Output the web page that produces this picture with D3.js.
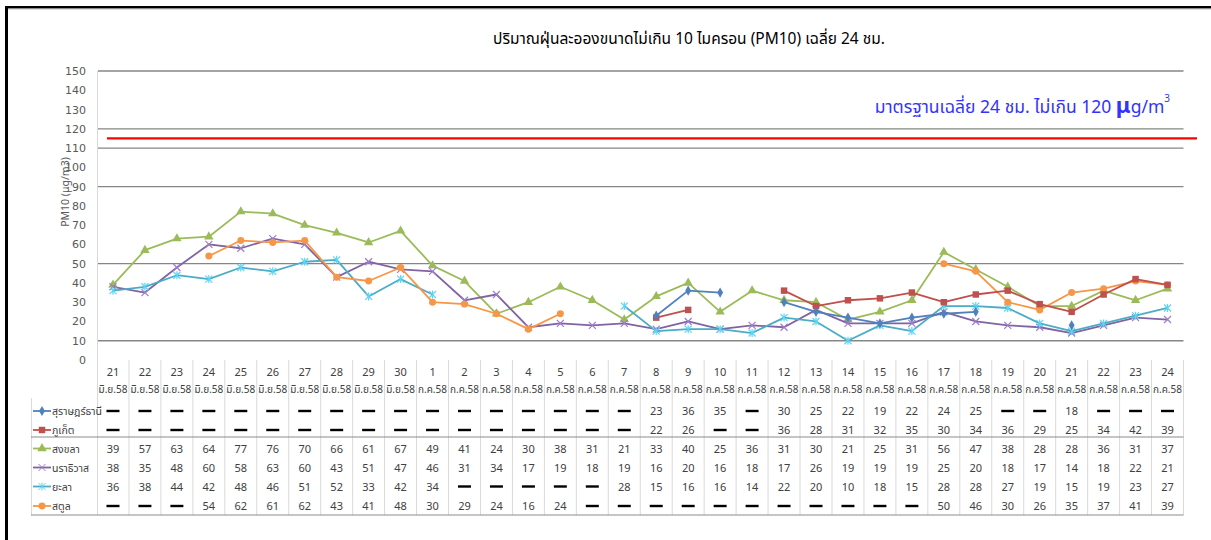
<!DOCTYPE html>
<html>
<head>
<meta charset="utf-8">
<script src="https://cdn.jsdelivr.net/npm/d3@7"></script>
<style>
  html, body { margin: 0; padding: 0; background: #fff; }
  svg { display: block; font-family: Tahoma, "Noto Sans Thai", "Noto Sans", "DejaVu Sans", sans-serif; }
</style>
</head>
<body>
<svg id="chart" width="1211" height="540"></svg>
<script>
// ---------------- DATA ----------------
const days = [21,22,23,24,25,26,27,28,29,30,1,2,3,4,5,6,7,8,9,10,11,12,13,14,15,16,17,18,19,20,21,22,23,24];
const months = ["มิ.ย.58","มิ.ย.58","มิ.ย.58","มิ.ย.58","มิ.ย.58","มิ.ย.58","มิ.ย.58","มิ.ย.58","มิ.ย.58","มิ.ย.58",
  "ก.ค.58","ก.ค.58","ก.ค.58","ก.ค.58","ก.ค.58","ก.ค.58","ก.ค.58","ก.ค.58","ก.ค.58","ก.ค.58","ก.ค.58","ก.ค.58",
  "ก.ค.58","ก.ค.58","ก.ค.58","ก.ค.58","ก.ค.58","ก.ค.58","ก.ค.58","ก.ค.58","ก.ค.58","ก.ค.58","ก.ค.58","ก.ค.58"];
const seriesNames = ["สุราษฎร์ธานี","ภูเก็ต","สงขลา","นราธิวาส","ยะลา","สตูล"];
const suratthani = [null,null,null,null,null,null,null,null,null,null,null,null,null,null,null,null,null,
  23,36,35,null,30,25,22,19,22,24,25,null,null,18,null,null,null];
const phuket = [null,null,null,null,null,null,null,null,null,null,null,null,null,null,null,null,null,
  22,26,null,null,36,28,31,32,35,30,34,36,29,25,34,42,39];
const songkhla = [39,57,63,64,77,76,70,66,61,67,49,41,24,30,38,31,21,33,40,25,36,31,30,21,25,31,56,47,38,28,28,36,31,37];
const narathiwat = [38,35,48,60,58,63,60,43,51,47,46,31,34,17,19,18,19,16,20,16,18,17,26,19,19,19,25,20,18,17,14,18,22,21];
const yala = [36,38,44,42,48,46,51,52,33,42,34,null,null,null,null,null,28,15,16,16,14,22,20,10,18,15,28,28,27,19,15,19,23,27];
const satun = [null,null,null,54,62,61,62,43,41,48,30,29,24,16,24,null,null,null,null,null,null,null,null,null,null,null,50,46,30,26,35,37,41,39];
const yTicks = [0,10,20,30,40,50,60,70,80,90,100,110,120,130,140,150];
const gridValues = [150,120,110,90,50,10];
const standardValue = 115;
const titleText = "ปริมาณฝุ่นละอองขนาดไม่เกิน 10 ไมครอน (PM10) เฉลี่ย 24 ชม.";
const yLabel = "PM10 (μg/m3)";

// ---------------- STYLE ----------------
const colors = ["#4F81BD","#C0504D","#9BBB59","#8064A2","#4BACC6","#F79646"];
const symbols = ["diamond","square","triangle","x","star","circle"];
const allSeries = [suratthani, phuket, songkhla, narathiwat, yala, satun];

const svg = d3.select("#chart");
const W = 1211, H = 540;
const plotL = 97, plotR = 1183.5, plotT = 71, plotB = 360;

const x = d3.scaleBand().domain(d3.range(days.length)).range([plotL, plotR]).padding(0);
const cx = i => x(i) + x.bandwidth() / 2;
const y = d3.scaleLinear().domain([0,150]).range([plotB, plotT]);

// frame
svg.append("rect").attr("x",5).attr("y",6).attr("width",W-5).attr("height",2.5).attr("fill","#000");
svg.append("rect").attr("x",5).attr("y",8.5).attr("width",W-5).attr("height",0.8).attr("fill","#999");
svg.append("rect").attr("x",5).attr("y",6).attr("width",3).attr("height",H-6).attr("fill","#000");

// title
svg.append("text").attr("x",689).attr("y",44).attr("text-anchor","middle")
  .attr("font-size",15.5).attr("fill","#000").text(titleText);

// gridlines
svg.append("g").selectAll("line").data(gridValues).join("line")
  .attr("x1",plotL+1).attr("x2",plotR).attr("y1",d=>y(d)).attr("y2",d=>y(d))
  .attr("stroke","#868686").attr("stroke-width",1.3);

// left vertical axis line (continues into table)
svg.append("line").attr("x1",plotL+0.5).attr("x2",plotL+0.5).attr("y1",plotT).attr("y2",515)
  .attr("stroke","#d9d9d9").attr("stroke-width",1);

// y axis labels
const yAxis = d3.axisLeft(y).tickValues(yTicks).tickSize(0).tickPadding(0).tickFormat(d3.format("d"));
const yg = svg.append("g").attr("transform",`translate(86,0)`).call(yAxis);
yg.select(".domain").remove();
yg.selectAll("text").attr("font-size",11).attr("fill","#595959")
  .attr("font-family","Tahoma, 'DejaVu Sans', sans-serif");

svg.append("text").attr("transform",`translate(69,192) rotate(-90)`).attr("text-anchor","middle")
  .attr("font-size",10.5).attr("fill","#595959").text(yLabel);

// standard line
svg.append("line").attr("x1",107).attr("x2",1197).attr("y1",y(standardValue)).attr("y2",y(standardValue))
  .attr("stroke","#FF0000").attr("stroke-width",2.2);

const st = svg.append("text").attr("x",1170).attr("y",113).attr("text-anchor","end")
  .attr("font-size",17.5).attr("fill","#3333FF");
st.append("tspan").text("มาตรฐานเฉลี่ย 24 ชม. ไม่เกิน 120 ");
st.append("tspan").attr("font-size",22).attr("font-weight","bold").text("μ");
st.append("tspan").text("g/m");
st.append("tspan").attr("font-size",10).attr("dy",-11).text("3");

// symbol drawer
function symPath(type) {
  switch (type) {
    case "diamond": return d3.symbol(d3.symbolDiamond, 30)();
    case "square": return d3.symbol(d3.symbolSquare, 42)();
    case "triangle": return d3.symbol(d3.symbolTriangle, 38)();
    case "circle": return d3.symbol(d3.symbolCircle, 38)();
    case "x": return "M-3.5,-3.5L3.5,3.5M-3.5,3.5L3.5,-3.5";
    case "star": return "M-3.5,-3.5L3.5,3.5M-3.5,3.5L3.5,-3.5M0,-4L0,4";
  }
}

// series lines + markers
const line = d3.line().defined(d => d.v != null).x(d => cx(d.i)).y(d => y(d.v));
const drawOrder = [2,3,4,5,1,0];
drawOrder.forEach(k => {
  const pts = allSeries[k].map((v,i) => ({v,i}));
  svg.append("path").datum(pts).attr("d", line).attr("fill","none")
    .attr("stroke", colors[k]).attr("stroke-width", 1.8).attr("stroke-linejoin","round");
  const valid = pts.filter(d => d.v != null);
  const g = svg.append("g");
  const isLine = symbols[k] === "x" || symbols[k] === "star";
  g.selectAll("path").data(valid).join("path")
    .attr("transform", d => `translate(${cx(d.i)},${y(d.v)})`)
    .attr("d", symPath(symbols[k]))
    .attr("fill", isLine ? "none" : colors[k])
    .attr("stroke", isLine ? d3.color(colors[k]).brighter(0.6) : "none")
    .attr("stroke-width", 1.2);
});

// ---------------- TABLE ----------------
const dayY = 375.5, monY = 393;
const rowY = [411, 430, 448.5, 467.5, 486.5, 506];

// column separators
svg.append("g").selectAll("line").data(d3.range(1, days.length + 1)).join("line")
  .attr("x1", i => x(0) + i * x.bandwidth()).attr("x2", i => x(0) + i * x.bandwidth())
  .attr("y1", 360).attr("y2", 515)
  .attr("stroke","#d9d9d9").attr("stroke-width",1);

// legend column border
svg.append("line").attr("x1",31.5).attr("x2",31.5).attr("y1",398).attr("y2",515)
  .attr("stroke","#d9d9d9");
// horizontal lines
[437, 515].forEach(yy => {
  svg.append("line").attr("x1",31).attr("x2",plotR).attr("y1",yy).attr("y2",yy)
    .attr("stroke","#8c8c8c").attr("stroke-width",1.2);
});

svg.append("g").selectAll("text").data(days).join("text")
  .attr("x",(d,i)=>cx(i)).attr("y",dayY).attr("text-anchor","middle")
  .attr("font-size",11).attr("fill","#404040").text(d=>d);
svg.append("g").selectAll("text").data(months).join("text")
  .attr("x",(d,i)=>cx(i)).attr("y",monY).attr("text-anchor","middle")
  .attr("font-size",10).attr("fill","#404040").text(d=>d);

allSeries.forEach((arr,k) => {
  const g = svg.append("g");
  arr.forEach((v,i) => {
    if (v == null) {
      g.append("line").attr("x1",cx(i)-6.5).attr("x2",cx(i)+6.5)
        .attr("y1",rowY[k]).attr("y2",rowY[k]).attr("stroke","#000").attr("stroke-width",2.4);
    } else {
      g.append("text").attr("x",cx(i)).attr("y",rowY[k]+4).attr("text-anchor","middle")
        .attr("font-size",11).attr("fill","#404040").text(v);
    }
  });
  // legend
  svg.append("line").attr("x1",33).attr("x2",51).attr("y1",rowY[k]).attr("y2",rowY[k])
    .attr("stroke",colors[k]).attr("stroke-width",1.8);
  const isLine = symbols[k] === "x" || symbols[k] === "star";
  svg.append("path").attr("transform",`translate(42,${rowY[k]})`)
    .attr("d", symPath(symbols[k]))
    .attr("fill", isLine ? "none" : colors[k])
    .attr("stroke", isLine ? d3.color(colors[k]).brighter(0.6) : "none")
    .attr("stroke-width",1);
  svg.append("text").attr("x",52).attr("y",rowY[k]+4)
    .attr("font-size",10.5).attr("fill","#404040").text(seriesNames[k]);
});
</script>
</body>
</html>
